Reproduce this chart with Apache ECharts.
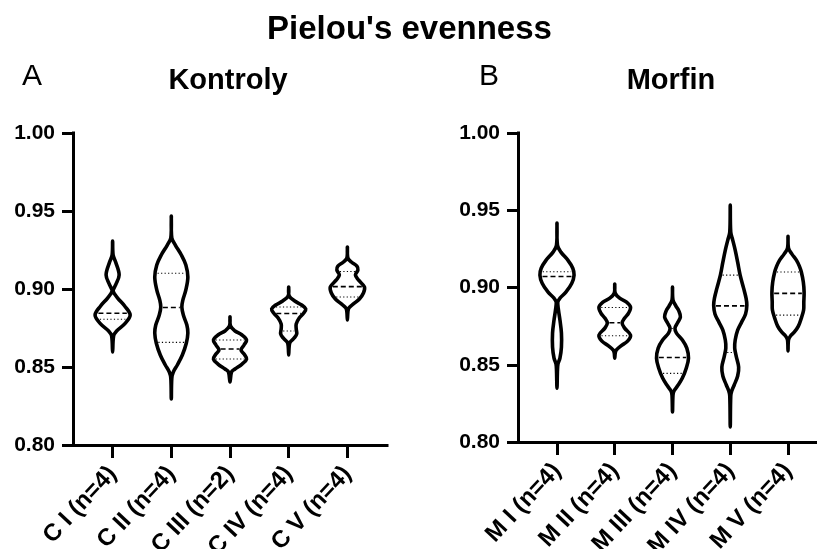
<!DOCTYPE html>
<html><head><meta charset="utf-8">
<script src="https://cdn.jsdelivr.net/npm/echarts@6/dist/echarts.min.js"></script>
<style>html,body{margin:0;padding:0;background:#fff}#c{width:817px;height:549px}</style>
</head><body><div id="c"></div>
<script>
const mainTitle = "Pielou's evenness";
const panelLetters = ['A', 'B'];
const panelTitles = ['Kontroly', 'Morfin'];
const yTickValues = [0.80, 0.85, 0.90, 0.95, 1.00];
const categoriesControl = ['C I (n=4)', 'C II (n=4)', 'C III (n=2)', 'C IV (n=4)', 'C V (n=4)'];
const categoriesMorphine = ['M I (n=4)', 'M II (n=4)', 'M III (n=4)', 'M IV (n=4)', 'M V (n=4)'];

// violin outlines: [value, kernel density (relative half-width)]
const violinC1 = [[0.9308,0],[0.9218,0.5],[0.9173,3],[0.9090,6.5],[0.9026,3],[0.8987,0.5],[0.8942,5],[0.8891,12],[0.8833,17.5],[0.8776,12],[0.8731,4],[0.8699,1],[0.8596,0]];
const violinC2 = [[0.9468,0],[0.9327,0.5],[0.9282,4],[0.9218,10],[0.9154,14.5],[0.9077,16.5],[0.8994,14.5],[0.8929,11.5],[0.8885,10.5],[0.8833,12],[0.8769,15.5],[0.8718,16.5],[0.8654,15],[0.8577,11],[0.8513,6],[0.8468,2],[0.8429,0.5],[0.8295,0]];
const violinC3 = [[0.8821,0],[0.8763,0.5],[0.8731,5],[0.8705,12],[0.8673,16.5],[0.8641,14],[0.8609,11],[0.8583,14],[0.8551,16.5],[0.8519,12],[0.8487,5],[0.8468,1.5],[0.8404,0]];
const violinC4 = [[0.9013,0],[0.8955,0.5],[0.8923,6],[0.8897,13],[0.8872,17],[0.8846,15],[0.8814,10.5],[0.8776,7.5],[0.8744,7.5],[0.8712,8],[0.8686,5.5],[0.8660,1.5],[0.8635,0.5],[0.8577,0]];
const violinC5 = [[0.9269,0],[0.9199,0.5],[0.9173,4],[0.9147,9.5],[0.9122,10.5],[0.9090,8],[0.9058,11],[0.9013,17],[0.8974,16],[0.8936,12],[0.8904,6],[0.8878,1.5],[0.8853,0.5],[0.8801,0]];
const violinM1 = [[0.9417,0],[0.9274,0.5],[0.9229,4],[0.9177,11],[0.9125,16],[0.9080,17.3],[0.9028,15],[0.8970,9],[0.8931,3],[0.8906,0.8],[0.8854,1.5],[0.8789,3],[0.8705,4.5],[0.8614,4.5],[0.8543,3],[0.8505,1],[0.8466,0.5],[0.8349,0]];
const violinM2 = [[0.9022,0],[0.8964,0.5],[0.8931,5],[0.8906,12],[0.8873,16],[0.8834,14],[0.8802,10],[0.8770,7.5],[0.8737,10],[0.8692,16],[0.8653,13],[0.8621,6],[0.8595,1.5],[0.8576,0.5],[0.8543,0]];
const violinM3 = [[0.9003,0],[0.8919,0.5],[0.8880,3.5],[0.8847,6.5],[0.8809,8],[0.8770,5],[0.8737,2.5],[0.8705,4],[0.8660,10],[0.8608,14.5],[0.8543,16.2],[0.8479,14],[0.8414,10],[0.8362,5],[0.8330,1.5],[0.8304,0.5],[0.8194,0]];
const violinM4 = [[0.9533,0],[0.9358,0.5],[0.9307,2.5],[0.9242,5],[0.9164,7.5],[0.9080,10],[0.8996,13.5],[0.8931,16],[0.8886,16.8],[0.8828,15.5],[0.8776,11.5],[0.8724,7.5],[0.8660,5],[0.8608,4.5],[0.8556,6],[0.8485,8.5],[0.8427,7.5],[0.8369,4],[0.8330,1.5],[0.8298,0.5],[0.8097,0]];
const violinM5 = [[0.9332,0],[0.9255,0.5],[0.9216,4],[0.9177,8.5],[0.9138,11.5],[0.9100,13.5],[0.9035,15.5],[0.8970,16.3],[0.8906,16],[0.8854,15.8],[0.8802,13.5],[0.8750,10.5],[0.8712,6.5],[0.8686,2.5],[0.8660,0.5],[0.8589,0]];

// quartiles: [Q1, median, Q3]
const quartilesControl = [[0.8806,0.8845,null],[0.8658,0.8881,0.9101],[0.8551,0.8615,0.8673],[0.8731,0.8843,0.8885],[0.8949,0.9015,0.9112]];
const quartilesMorphine = [[null,0.9071,0.9102],[0.8688,0.8772,0.8871],[0.8444,0.8547,0.8735],[0.8579,0.8881,0.9080],[0.8821,0.8962,0.9100]];

const violinsControl = [violinC1, violinC2, violinC3, violinC4, violinC5];
const violinsMorphine = [violinM1, violinM2, violinM3, violinM4, violinM5];

const FONT = '"Liberation Sans", Arial, sans-serif';
const DENS_K = 1 / 58.5;

function densAt(prof, v) {
  for (let j = 0; j < prof.length - 1; j++) {
    const a = prof[j], b = prof[j + 1];
    if (v <= a[0] && v >= b[0]) {
      const t = (a[0] - v) / (a[0] - b[0]);
      return a[1] + (b[1] - a[1]) * t;
    }
  }
  return 0;
}

function makeRender(profiles, quartiles) {
  return function (params, api) {
    const i = api.value(0);
    const prof = profiles[i];
    const k = api.size([1, 0])[0] * DENS_K;
    const left = [], right = [];
    prof.forEach(([v, d]) => {
      const p = api.coord([i, v]);
      if (d === 0) {
        left.push([p[0], p[1]]);
      } else {
        left.push([p[0] - d * k, p[1]]);
        right.push([p[0] + d * k, p[1]]);
      }
    });
    const pts = left.concat(right.reverse());
    const children = [{
      type: 'polygon',
      shape: { points: pts, smooth: 0.35 },
      style: { fill: 'none', stroke: '#000', lineWidth: 3.6, lineJoin: 'round' }
    }];
    quartiles[i].forEach((val, qi) => {
      if (val == null) return;
      const p = api.coord([i, val]);
      const hw = Math.max(densAt(prof, val) * k - 2.2, 1);
      const isMed = qi === 1;
      children.push({
        type: 'line',
        shape: { x1: p[0] - hw, y1: p[1], x2: p[0] + hw, y2: p[1] },
        style: { stroke: '#000', lineWidth: isMed ? 1.6 : 1.1, lineDash: isMed ? [5, 3] : [1.2, 2.3] }
      });
    });
    return { type: 'group', children };
  };
}

function xAxisFor(gridIndex, cats) {
  return {
    type: 'value', gridIndex, min: -0.675, max: 4.675,
    axisLine: { show: true, onZero: false, lineStyle: { color: '#000', width: 3, cap: 'square' } },
    splitLine: { show: false },
    axisTick: { show: true, customValues: [0, 1, 2, 3, 4], length: 13, lineStyle: { color: '#000', width: 3 } },
    axisLabel: {
      customValues: [0, 1, 2, 3, 4], formatter: v => cats[Math.round(v)],
      rotate: 47, margin: 25, color: '#000', fontSize: 24, fontWeight: 'bold', fontFamily: FONT
    }
  };
}
function yAxisFor(gridIndex) {
  return {
    type: 'value', gridIndex, min: 0.8, max: 1.0,
    axisLine: { show: true, onZero: false, lineStyle: { color: '#000', width: 3, cap: 'square' } },
    splitLine: { show: false },
    axisTick: { show: true, customValues: yTickValues, length: 11, lineStyle: { color: '#000', width: 3 } },
    axisLabel: {
      customValues: yTickValues, formatter: v => v.toFixed(2), margin: 18,
      color: '#000', fontSize: 21, fontWeight: 'bold', fontFamily: FONT
    }
  };
}

const chart = echarts.init(document.getElementById('c'), null, { renderer: 'canvas' });
chart.setOption({
  animation: false,
  backgroundColor: '#fff',
  grid: [
    { left: 73, right: 430, top: 133, bottom: 104, containLabel: false, outerBoundsMode: 'none' },
    { left: 518, right: -10, top: 133, bottom: 107, containLabel: false, outerBoundsMode: 'none' }
  ],
  xAxis: [xAxisFor(0, categoriesControl), xAxisFor(1, categoriesMorphine)],
  yAxis: [yAxisFor(0), yAxisFor(1)],
  graphic: [
    { type: 'text', x: 409.5, y: 30, style: { text: mainTitle, fill: '#000', font: 'bold 33px ' + FONT, textAlign: 'center', textVerticalAlign: 'middle' } },
    { type: 'text', x: 22, y: 77, style: { text: panelLetters[0], fill: '#000', font: '30px ' + FONT, textAlign: 'left', textVerticalAlign: 'middle' } },
    { type: 'text', x: 228, y: 81, style: { text: panelTitles[0], fill: '#000', font: 'bold 29px ' + FONT, textAlign: 'center', textVerticalAlign: 'middle' } },
    { type: 'text', x: 479, y: 77, style: { text: panelLetters[1], fill: '#000', font: '30px ' + FONT, textAlign: 'left', textVerticalAlign: 'middle' } },
    { type: 'text', x: 671, y: 81, style: { text: panelTitles[1], fill: '#000', font: 'bold 29px ' + FONT, textAlign: 'center', textVerticalAlign: 'middle' } }
  ],
  series: [
    { type: 'custom', xAxisIndex: 0, yAxisIndex: 0, renderItem: makeRender(violinsControl, quartilesControl), data: [[0],[1],[2],[3],[4]], clip: false },
    { type: 'custom', xAxisIndex: 1, yAxisIndex: 1, renderItem: makeRender(violinsMorphine, quartilesMorphine), data: [[0],[1],[2],[3],[4]], clip: false }
  ]
});
</script>
</body></html>
